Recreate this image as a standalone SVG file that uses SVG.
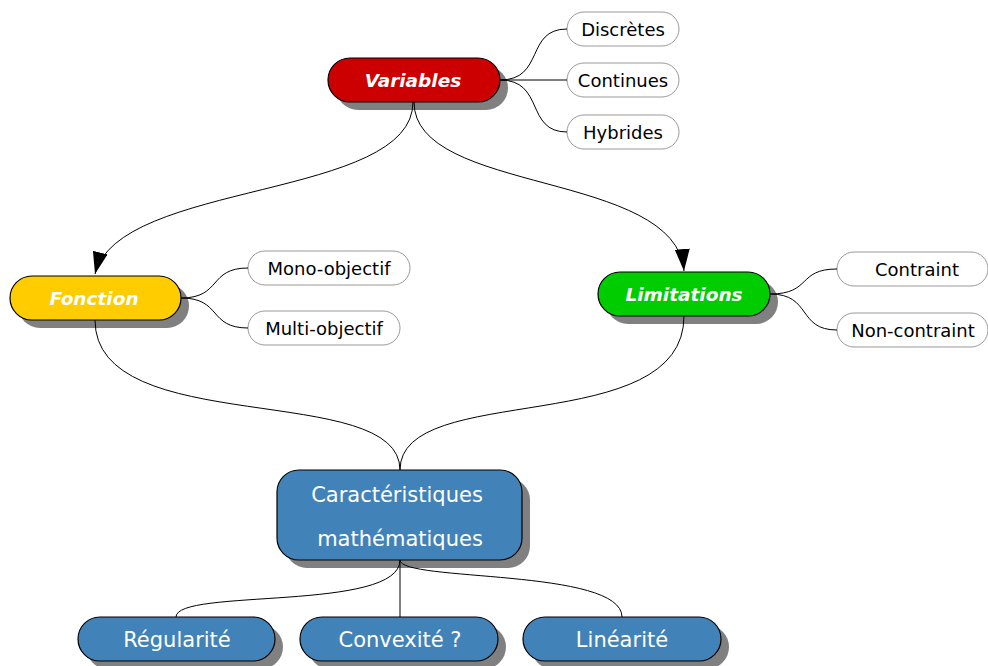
<svg xmlns="http://www.w3.org/2000/svg" width="988" height="666" viewBox="0 0 988 666">
<defs>
<marker id="arr" viewBox="0 0 22 15" refX="22" refY="7.5" markerWidth="22" markerHeight="15" markerUnits="userSpaceOnUse" orient="auto">
<path d="M0,0 L22,7.5 L0,15 Z" fill="#000"/>
</marker>
<style>
.shadow{fill:#808080}
.main{stroke:#000;stroke-width:1.2}
.sub{fill:#fff;stroke:#999;stroke-width:1}
.blue{fill:#4183b8;stroke:#000;stroke-width:1.2}
.mt{font-family:"DejaVu Sans",Verdana,sans-serif;font-weight:bold;font-style:italic;font-size:18.5px;fill:#fff;text-anchor:middle}
.st{font-family:"DejaVu Sans",Verdana,sans-serif;font-size:18px;fill:#000;text-anchor:middle}
.bt{font-family:"DejaVu Sans",Verdana,sans-serif;font-size:21px;fill:#fff;text-anchor:middle}
.c{fill:none;stroke:#000;stroke-width:1}
</style>
</defs>
<rect width="988" height="666" fill="#fff"/>
<g id="variables">
<rect class="shadow" x="336" y="66" width="172" height="44" rx="22"/>
<rect class="main" x="328" y="58" width="172" height="44" rx="22" fill="#cc0000"/>
<text class="mt" x="413" y="87">Variables</text>
</g>
<g id="discretes">
<rect class="sub" x="567" y="12" width="112" height="34" rx="17"/>
<text class="st" x="623" y="35.5">Discrètes</text>
</g>
<g id="continues">
<rect class="sub" x="567" y="63" width="112" height="34" rx="17"/>
<text class="st" x="623" y="86.5">Continues</text>
</g>
<g id="hybrides">
<rect class="sub" x="567" y="115" width="112" height="34" rx="17"/>
<text class="st" x="623" y="138.5">Hybrides</text>
</g>
<g id="fonction">
<rect class="shadow" x="18" y="284" width="171" height="44" rx="22"/>
<rect class="main" x="10" y="276" width="171" height="44" rx="22" fill="#ffcc00"/>
<text class="mt" x="94" y="305">Fonction</text>
</g>
<g id="mono">
<rect class="sub" x="248" y="251" width="162" height="34" rx="17"/>
<text class="st" x="329" y="274.5">Mono-objectif</text>
</g>
<g id="multi">
<rect class="sub" x="248" y="311" width="152" height="34" rx="17"/>
<text class="st" x="324" y="334.5">Multi-objectif</text>
</g>
<g id="limitations">
<rect class="shadow" x="606" y="280" width="172" height="44" rx="22"/>
<rect class="main" x="598" y="272" width="172" height="44" rx="22" fill="#00cc00"/>
<text class="mt" x="684" y="301">Limitations</text>
</g>
<g id="contraint">
<rect class="sub" x="837" y="252" width="151" height="34" rx="17"/>
<text class="st" x="917" y="275.5">Contraint</text>
</g>
<g id="noncontraint">
<rect class="sub" x="837" y="313" width="151" height="34" rx="17"/>
<text class="st" x="913" y="336.5">Non-contraint</text>
</g>
<g id="caracteristiques">
<rect class="shadow" x="285" y="478" width="245" height="90" rx="22"/>
<rect class="blue" x="277" y="470" width="245" height="90" rx="22"/>
<text class="bt" x="397" y="502">Caractéristiques</text>
<text class="bt" x="400" y="546">mathématiques</text>
</g>
<g id="regularite">
<rect class="shadow" x="86" y="625" width="197" height="44" rx="22"/>
<rect class="blue" x="78" y="617" width="197" height="44" rx="22"/>
<text class="bt" x="177" y="647">Régularité</text>
</g>
<g id="convexite">
<rect class="shadow" x="308" y="625" width="198" height="44" rx="22"/>
<rect class="blue" x="300" y="617" width="198" height="44" rx="22"/>
<text class="bt" x="400" y="647">Convexité ?</text>
</g>
<g id="linearite">
<rect class="shadow" x="531" y="625" width="198" height="44" rx="22"/>
<rect class="blue" x="523" y="617" width="198" height="44" rx="22"/>
<text class="bt" x="622" y="647">Linéarité</text>
</g>
<g id="connectors">
<path class="c" d="M413,102 C413,200 118,180 95,274" marker-end="url(#arr)"/>
<path class="c" d="M414,102 C414,195 676,170 684,271" marker-end="url(#arr)"/>
<path class="c" d="M95,320 C95,440 400,380 400,470"/>
<path class="c" d="M684,316 C684,440 400,380 400,470"/>
<path class="c" d="M400,560 C400,612 176,588 176,617"/>
<path class="c" d="M400,560 L400,617"/>
<path class="c" d="M400,560 C400,582 622,568 622,617"/>
<path class="c" d="M500,80 C545,80 525,29 567,29"/>
<path class="c" d="M500,80 L567,80"/>
<path class="c" d="M500,80 C545,80 525,132 567,132"/>
<path class="c" d="M181,298 C222,298 208,268 248,268"/>
<path class="c" d="M181,298 C222,298 208,328 248,328"/>
<path class="c" d="M770,294 C812,294 797,269 837,269"/>
<path class="c" d="M770,294 C812,294 797,330 837,330"/>
</g>
</svg>
